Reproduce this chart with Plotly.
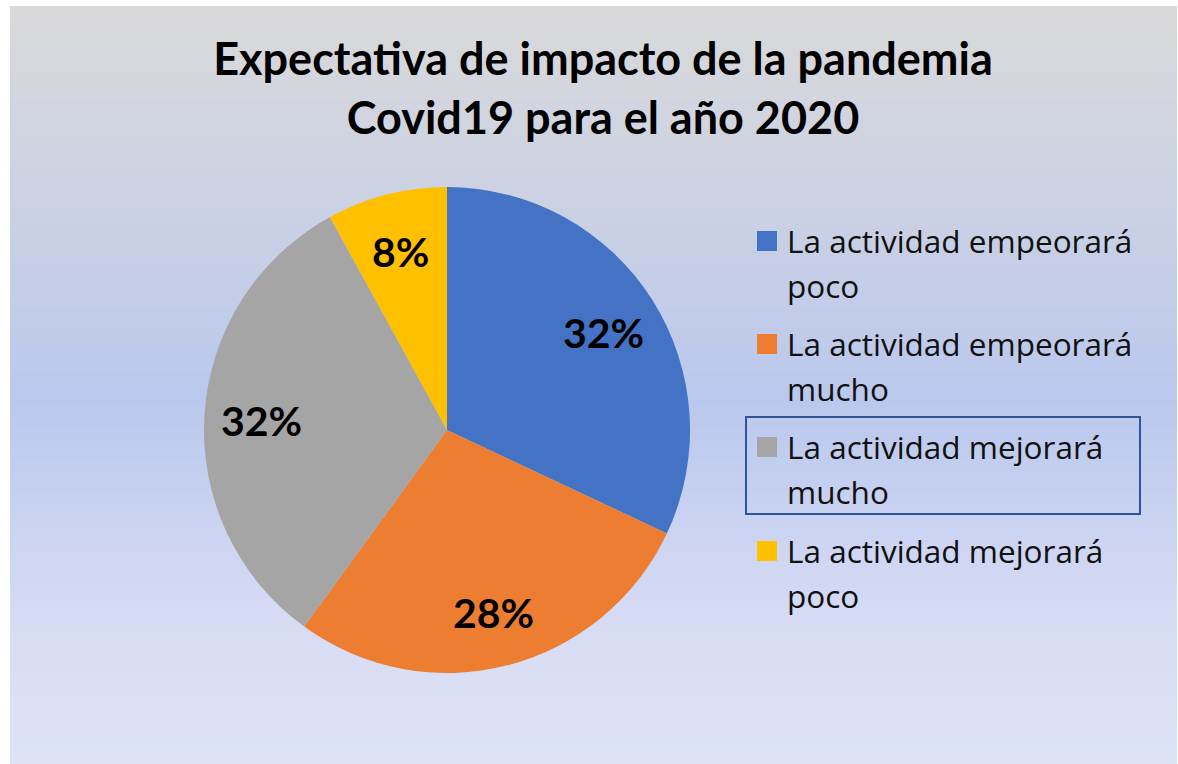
import math
import plotly.graph_objects as go

# ─────────────────────────────────
# Datos
# ─────────────────────────────────
categorias = [
    "La actividad empeorará poco",
    "La actividad empeorará mucho",
    "La actividad mejorará mucho",
    "La actividad mejorará poco",
]
porcentajes = [32, 28, 32, 8]
colores = ["#4472C4", "#ED7D31", "#A5A5A5", "#FFC000"]
titulo = "Expectativa de impacto de la pandemia<br>Covid19 para el año 2020"

W, H = 1178, 764
FUENTE_TIT = "Lato"
FUENTE_LEY = "Open Sans"


def px_x(x):
    return x / W


def px_y(y):
    return 1 - y / H


# ─────────────────────────────────
# Fondo degradado (gris arriba, azul al centro, claro abajo)
# ─────────────────────────────────
paradas = [
    (0.00, (217, 217, 217)),
    (0.25, (204, 210, 228)),
    (0.52, (186, 200, 237)),
    (0.82, (215, 220, 245)),
    (1.00, (221, 227, 245)),
]


def color_degradado(t):
    for (t0, c0), (t1, c1) in zip(paradas[:-1], paradas[1:]):
        if t0 <= t <= t1:
            f = (t - t0) / (t1 - t0)
            r, g, b = (round(a + (b_ - a) * f) for a, b_ in zip(c0, c1))
            return f"rgb({r},{g},{b})"
    return "rgb(221,227,245)"


y_top = px_y(6)
y_bot = 0.0
n_bandas = 120
shapes = []
for i in range(n_bandas):
    ya = y_top - (y_top - y_bot) * i / n_bandas
    yb = y_top - (y_top - y_bot) * (i + 1) / n_bandas
    shapes.append(dict(
        type="rect", xref="paper", yref="paper",
        x0=px_x(10), x1=px_x(1177), y0=yb, y1=min(ya + 0.001, y_top),
        fillcolor=color_degradado(i / (n_bandas - 1)),
        line=dict(width=0), layer="below",
    ))

# ─────────────────────────────────
# Gráfico de torta
# ─────────────────────────────────
cx, cy, r = 447, 430, 243
fig = go.Figure(go.Pie(
    labels=categorias,
    values=porcentajes,
    marker=dict(colors=colores, line=dict(width=0)),
    sort=False,
    direction="clockwise",
    rotation=0,
    textinfo="none",
    domain=dict(x=[px_x(cx - r), px_x(cx + r)], y=[px_y(cy + r), px_y(cy - r)]),
    showlegend=False,
    hoverinfo="label+percent",
))

# etiquetas de datos hacia el borde de cada porción (como Excel)
annotations = []
total = sum(porcentajes)
acum = 0
for v in porcentajes:
    ang = 2 * math.pi * (acum + v / 2) / total
    acum += v
    lx = cx + 0.765 * r * math.sin(ang)
    ly = cy - 0.765 * r * math.cos(ang)
    annotations.append(dict(
        text=f"<b>{round(100 * v / total)}%</b>", xref="paper", yref="paper",
        x=px_x(lx), y=px_y(ly + 2), xanchor="center", yanchor="middle",
        showarrow=False, font=dict(family=FUENTE_TIT, size=41, color="black"),
    ))

# ─────────────────────────────────
# Leyenda manual (dos líneas por entrada)
# ─────────────────────────────────
y_items = [241, 344, 447, 551]
for cat, col, yc in zip(categorias, colores, y_items):
    linea1, linea2 = cat.rsplit(" ", 1)
    shapes.append(dict(
        type="rect", xref="paper", yref="paper",
        x0=px_x(757), x1=px_x(777), y0=px_y(yc + 10), y1=px_y(yc - 10),
        fillcolor=col, line=dict(width=0),
    ))
    for txt, yy in [(linea1, yc), (linea2, yc + 45)]:
        annotations.append(dict(
            text=txt, xref="paper", yref="paper",
            x=px_x(785), y=px_y(yy - 1), xanchor="left", yanchor="middle",
            showarrow=False, font=dict(family=FUENTE_LEY, size=31.5, color="#111111"),
        ))

# recuadro de selección sobre la tercera entrada
shapes.append(dict(
    type="rect", xref="paper", yref="paper",
    x0=px_x(746), x1=px_x(1140), y0=px_y(514), y1=px_y(417),
    line=dict(color="#2F5597", width=2), fillcolor="rgba(0,0,0,0)",
))

fig.update_layout(
    width=W, height=H,
    margin=dict(l=0, r=0, t=0, b=0),
    paper_bgcolor="white",
    plot_bgcolor="rgba(0,0,0,0)",
    shapes=shapes,
    annotations=annotations,
    title=dict(
        text=f"<b>{titulo}</b>",
        font=dict(family=FUENTE_TIT, size=45, color="black"),
        x=px_x(603), xanchor="center", xref="paper",
        y=px_y(75), yanchor="middle", yref="container",
    ),
)

# sin margen del body para que la figura ocupe la ventana completa
fig.write_html(
    "out.html",
    config={"displayModeBar": False},
    post_script="document.body.style.margin='0';document.body.style.overflow='hidden';",
)
